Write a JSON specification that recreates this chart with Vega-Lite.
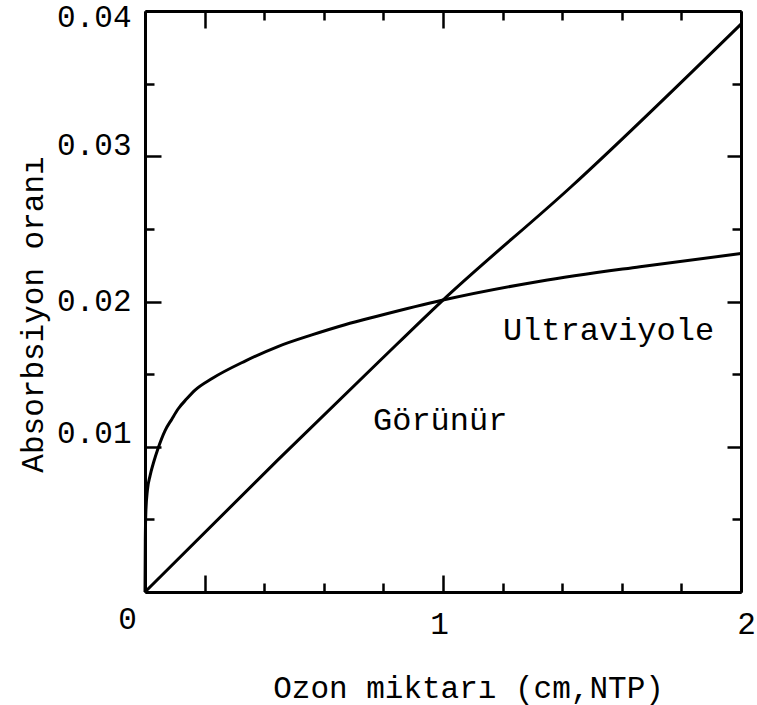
{
  "$schema": "https://vega.github.io/schema/vega-lite/v6.json",
  "width": 596,
  "height": 581,
  "autosize": "none",
  "padding": {"left": 145, "top": 11, "right": 16, "bottom": 113},
  "background": "white",
  "config": {
    "view": {"stroke": null},
    "axis": {
      "grid": false,
      "domainColor": "black",
      "domainWidth": 3,
      "tickColor": "black",
      "tickWidth": 2.5,
      "labelFont": "Liberation Mono",
      "titleFont": "Liberation Mono",
      "labelColor": "black",
      "titleColor": "black",
      "titleFontWeight": "normal",
      "labelFontSize": 31,
      "titleFontSize": 31,
      "labelFlush": false,
      "labelOverlap": false
    }
  },
  "datasets": {
    "curves": [
      {"isik": "Ultraviyole", "ozon": 0, "oran": 0},
      {"isik": "Ultraviyole", "ozon": 0.001, "oran": 0.0035},
      {"isik": "Ultraviyole", "ozon": 0.003, "oran": 0.0056},
      {"isik": "Ultraviyole", "ozon": 0.008, "oran": 0.007},
      {"isik": "Ultraviyole", "ozon": 0.017, "oran": 0.008},
      {"isik": "Ultraviyole", "ozon": 0.03, "oran": 0.009},
      {"isik": "Ultraviyole", "ozon": 0.044, "oran": 0.0099},
      {"isik": "Ultraviyole", "ozon": 0.067, "oran": 0.0111},
      {"isik": "Ultraviyole", "ozon": 0.09, "oran": 0.0119},
      {"isik": "Ultraviyole", "ozon": 0.111, "oran": 0.0126},
      {"isik": "Ultraviyole", "ozon": 0.14, "oran": 0.0133},
      {"isik": "Ultraviyole", "ozon": 0.168, "oran": 0.0139},
      {"isik": "Ultraviyole", "ozon": 0.225, "oran": 0.0147},
      {"isik": "Ultraviyole", "ozon": 0.336, "oran": 0.0159},
      {"isik": "Ultraviyole", "ozon": 0.446, "oran": 0.0169},
      {"isik": "Ultraviyole", "ozon": 0.56, "oran": 0.0177},
      {"isik": "Ultraviyole", "ozon": 0.671, "oran": 0.0184},
      {"isik": "Ultraviyole", "ozon": 0.782, "oran": 0.019},
      {"isik": "Ultraviyole", "ozon": 1.0, "oran": 0.0201},
      {"isik": "Ultraviyole", "ozon": 1.326, "oran": 0.0214},
      {"isik": "Ultraviyole", "ozon": 1.661, "oran": 0.0224},
      {"isik": "Ultraviyole", "ozon": 2.0, "oran": 0.0233},
      {"isik": "Görünür", "ozon": 0, "oran": 0},
      {"isik": "Görünür", "ozon": 0.446, "oran": 0.0091},
      {"isik": "Görünür", "ozon": 0.782, "oran": 0.0158},
      {"isik": "Görünür", "ozon": 1.0, "oran": 0.0201},
      {"isik": "Görünür", "ozon": 1.43, "oran": 0.0279},
      {"isik": "Görünür", "ozon": 2.0, "oran": 0.0391}
    ],
    "labels": [
      {"etiket": "Ultraviyole", "ozon": 1.201, "oran": 0.01735},
      {"etiket": "Görünür", "ozon": 0.765, "oran": 0.01115}
    ]
  },
  "layer": [
    {
      "data": {"name": "curves"},
      "mark": {"type": "line", "interpolate": "monotone", "strokeWidth": 3, "color": "black"},
      "encoding": {
        "x": {
          "field": "ozon",
          "type": "quantitative",
          "scale": {"domain": [0, 2], "nice": false},
          "axis": {
            "orient": "bottom",
            "values": [0, 0.2, 0.4, 0.6, 0.8, 1, 1.2, 1.4, 1.6, 1.8, 2],
            "tickSize": {"condition": {"test": "datum.value == 0.2 || datum.value == 1", "value": -17}, "value": -9},
            "labelExpr": "datum.value == 0 || datum.value == 1 || datum.value == 2 ? format(datum.value, 'd') : ''",
            "labelAngle": 0,
            "labelAlign": "center",
            "labelBaseline": "top",
            "labelPadding": {"condition": [{"test": "datum.value == 0", "value": 21}, {"test": "datum.value == 1", "value": 34}], "value": 26},
            "labelOffset": {"condition": [{"test": "datum.value == 0", "value": -18}, {"test": "datum.value == 2", "value": 5}], "value": -4},
            "title": "Ozon miktarı (cm,NTP)",
            "titleX": 323,
            "titleY": 96,
            "titleAlign": "center",
            "titleBaseline": "middle"
          }
        },
        "y": {
          "field": "oran",
          "type": "quantitative",
          "scale": {"domain": [0, 0.04], "nice": false},
          "axis": {
            "orient": "left",
            "values": [0, 0.005, 0.01, 0.015, 0.02, 0.025, 0.03, 0.035, 0.04],
            "tickSize": {"condition": {"test": "abs(datum.value * 100 - round(datum.value * 100)) < 1e-6", "value": -16}, "value": -9},
            "labelExpr": "datum.value > 0 && abs(datum.value * 100 - round(datum.value * 100)) < 1e-6 ? format(datum.value, '.2f') : ''",
            "labelAlign": "right",
            "labelBaseline": "middle",
            "labelOffset": {"condition": [{"test": "datum.value == 0.04", "value": 6}, {"test": "datum.value == 0.03", "value": -11}, {"test": "datum.value == 0.01", "value": -13}], "value": 0},
            "labelPadding": 30,
            "title": "Absorbsiyon oranı",
            "titleX": -112,
            "titleY": 303,
            "titleAngle": -90,
            "titleAlign": "center",
            "titleBaseline": "middle"
          }
        },
        "detail": {"field": "isik"}
      }
    },
    {
      "data": {"name": "labels"},
      "mark": {"type": "text", "font": "Liberation Mono", "fontSize": 32, "align": "left", "baseline": "alphabetic", "color": "black"},
      "encoding": {
        "x": {
          "field": "ozon",
          "type": "quantitative",
          "axis": {
            "orient": "top",
            "values": [0, 0.2, 0.4, 0.6, 0.8, 1, 1.2, 1.4, 1.6, 1.8, 2],
            "tickSize": {"condition": {"test": "datum.value == 0.2 || datum.value == 1", "value": -17}, "value": -9},
            "labels": false,
            "title": null
          }
        },
        "y": {
          "field": "oran",
          "type": "quantitative",
          "axis": {
            "orient": "right",
            "values": [0, 0.005, 0.01, 0.015, 0.02, 0.025, 0.03, 0.035, 0.04],
            "tickSize": {"condition": {"test": "abs(datum.value * 100 - round(datum.value * 100)) < 1e-6", "value": -14}, "value": -9},
            "labels": false,
            "title": null
          }
        },
        "text": {"field": "etiket"}
      }
    }
  ],
  "resolve": {"axis": {"x": "independent", "y": "independent"}}
}
